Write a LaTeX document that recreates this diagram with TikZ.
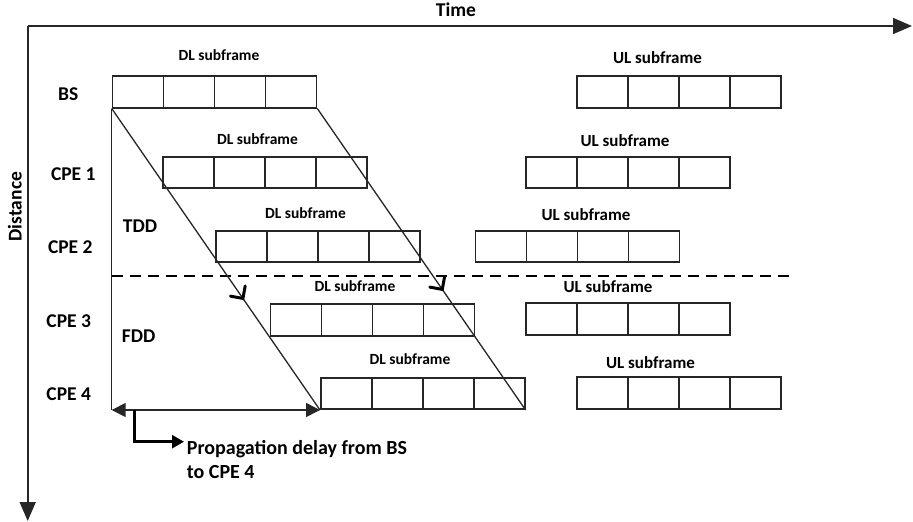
\documentclass[tikz,border=0pt]{standalone}
\usepackage{fontspec}
\setmainfont{Carlito}
\usetikzlibrary{arrows.meta,decorations.markings,calc}
\begin{document}
\begin{tikzpicture}[x=1pt,y=-1pt,
  ln/.style={line width=1.5pt, draw=black!85},
  frame/.style={draw=black!85, line width=1.6pt, minimum width=204pt, minimum height=31.5pt,
    inner sep=0pt, anchor=south west,
    path picture={\foreach \i in {1,2,3}{\draw[line width=1.6pt, black!85]
      ($(path picture bounding box.south west)!\i/4!(path picture bounding box.south east)$) --
      ($(path picture bounding box.north west)!\i/4!(path picture bounding box.north east)$);}}},
  lbl/.style={font=\bfseries\fontsize{19.5}{22}\selectfont, inner sep=0pt, anchor=base},
  dlab/.style={font=\bfseries\fontsize{15.5}{18}\selectfont, inner sep=0pt, anchor=base},
  ulab/.style={font=\bfseries\fontsize{17}{20}\selectfont, inner sep=0pt, anchor=base},
  midbarb/.style={postaction=decorate, decoration={markings,
    mark=at position #1 with {\draw[line width=3pt, line cap=round, line join=miter, black]
      (-9pt,9pt) -- (0pt,0pt) -- (-9pt,-9pt);}}}
]
\useasboundingbox (0,0) rectangle (913,522);

% axes
\coordinate (origin) at (27.7,26);
\coordinate (tend) at (912,26);
\coordinate (dend) at (27.7,521);
\draw[ln, line width=1.6pt, -{Triangle[length=19pt,width=16pt]}] (origin) -- (tend);
\draw[ln, line width=1.6pt, -{Triangle[length=19pt,width=16pt]}] (origin) -- (dend);
\node[lbl] (time) at (456,16.7) {Time};
\node[lbl, rotate=90] (dist) at (21.7,206.7) {Distance};

% row labels
\node[lbl] (tbs) at (68.3,100) {BS};
\node[lbl] (tc1) at (73.3,180.7) {CPE 1};
\node[lbl] (tc2) at (70.3,253) {CPE 2};
\node[lbl] (tc3) at (68.7,327) {CPE 3};
\node[lbl] (tc4) at (68.7,400) {CPE 4};
\node[lbl] (tdd) at (140,232) {TDD};
\node[lbl] (fdd) at (138.7,342) {FDD};

% subframes
\node[frame] (bsdl) at (111.7,108.5) {};
\node[frame] (bsul) at (576,108.5) {};
\node[frame] (c1dl) at (162,189) {};
\node[frame] (c1ul) at (525,189) {};
\node[frame] (c2dl) at (215,263) {};
\node[frame] (c2ul) at (474.5,263) {};
\node[frame] (c3dl) at (269.5,336.5) {};
\node[frame] (c3ul) at (525,335.5) {};
\node[frame] (c4dl) at (320,410) {};
\node[frame] (c4ul) at (576,409.5) {};

% subframe labels
\node[dlab] (lbsdl) at (219,60) {DL subframe};
\node[ulab] (lbsul) at (657.5,63) {UL subframe};
\node[dlab] (lc1dl) at (257.5,144) {DL subframe};
\node[ulab] (lc1ul) at (625,146) {UL subframe};
\node[dlab] (lc2dl) at (305.5,218) {DL subframe};
\node[ulab] (lc2ul) at (586,220) {UL subframe};
\node[dlab] (lc3dl) at (355,291.7) {DL subframe};
\node[ulab] (lc3ul) at (608,292.7) {UL subframe};
\node[dlab] (lc4dl) at (410,364) {DL subframe};
\node[ulab] (lc4ul) at (650.5,368) {UL subframe};

% dashed TDD/FDD separator
\coordinate (dashL) at (111.7,275.5);
\coordinate (dashR) at (795,275.5);
\draw[line width=2pt, dash pattern=on 11pt off 7pt] (dashL) -- (dashR);

% vertical line at BS start
\coordinate (vbot) at (bsdl.south west |- c4dl.south);
\draw[ln] (bsdl.south west) -- (vbot);

% propagation diagonals
\draw[ln, line width=1.3pt, midbarb=0.63] (bsdl.south west) -- (c4dl.south west);
\draw[ln, line width=1.3pt, midbarb=0.60] (bsdl.south east) -- (c4dl.south east);

% propagation delay arrow
\draw[ln, line width=1.6pt, {Triangle[length=14pt,width=14pt]}-{Triangle[length=14pt,width=14pt]}]
  (vbot) -- (c4dl.south west);
\coordinate (ebeg) at (134.5,410);
\coordinate (eend) at (184,441.7);
\draw[line width=2.6pt, -{Triangle[length=12pt,width=13pt]}] (ebeg) |- (eend);
\node[font=\bfseries\fontsize{20}{24.3}\selectfont, inner sep=0pt, align=left, anchor=base west]
  (pd) at (186.7,478.3) {Propagation delay from BS\\to CPE 4};
\end{tikzpicture}
\end{document}
